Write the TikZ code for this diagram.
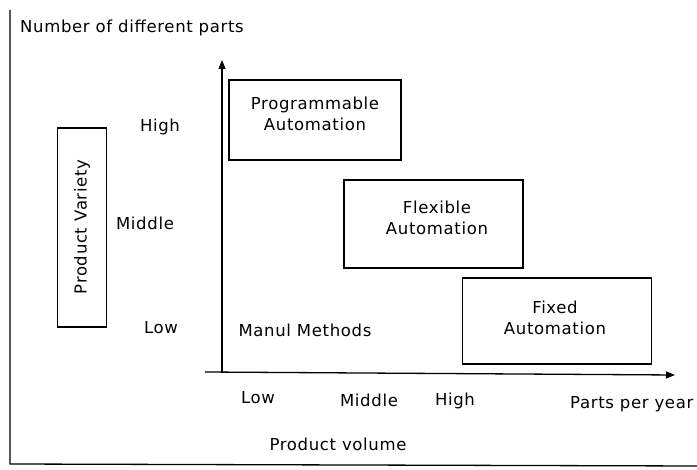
\documentclass[tikz,border=0pt]{standalone}
\usepackage{fontspec}
\setmainfont[LetterSpace=4]{DejaVu Sans}
\usetikzlibrary{arrows.meta}
\begin{document}
\begin{tikzpicture}[x=1pt,y=-1pt,
  lbl/.style={inner sep=0pt, font=\fontsize{16.5}{21}\selectfont},
  zone/.style={draw, line width=1.2pt, inner sep=0pt},
  axis/.style={line width=1.3pt, -{Triangle[length=9pt,width=7pt]}}]
\useasboundingbox (0,0) rectangle (697,470);
% frame
\coordinate (ftl) at (10,10);
\coordinate (fbl) at (10,464);
\coordinate (fbr) at (697,466);
\draw[line width=1.3pt] (ftl) -- (fbl) -- (fbr);
% axes
\coordinate (yo) at (222,372);
\coordinate (yt) at (222,60);
\coordinate (xo) at (205,372);
\coordinate (xt) at (675,375);
\draw[axis] (yo) -- (yt);
\draw[axis] (xo) -- (xt);
% boxes
\node[zone, minimum width=172pt, minimum height=80pt] (prog) at (315,120) {};
\node[lbl, align=center] (progt) at (315,114) {Programmable\\Automation};
\node[zone, minimum width=179pt, minimum height=88pt] (flex) at (433.5,224) {};
\node[lbl, align=center] (flext) at (437,218) {Flexible\\Automation};
\node[zone, minimum width=189pt, minimum height=86pt] (fix) at (557,321) {};
\node[lbl, align=center] (fixt) at (555,318) {Fixed\\Automation};
\node[zone, minimum width=49pt, minimum height=199pt] (var) at (82,227.5) {};
\node[lbl, rotate=90] (vart) at (82,227) {Product Variety};
% labels
\node[lbl, anchor=west] (title) at (20,28) {Number of different parts};
\node[lbl] (yh) at (160,127) {High};
\node[lbl] (ym) at (145,223) {Middle};
\node[lbl] (yl) at (161,328) {Low};
\node[lbl] (man) at (305,330) {Manul Methods};
\node[lbl] (xl) at (258,398) {Low};
\node[lbl] (xm) at (369,400) {Middle};
\node[lbl] (xh) at (455,401) {High};
\node[lbl, anchor=west] (ppy) at (570,404) {Parts per year};
\node[lbl] (pv) at (338,444) {Product volume};
\end{tikzpicture}
\end{document}
